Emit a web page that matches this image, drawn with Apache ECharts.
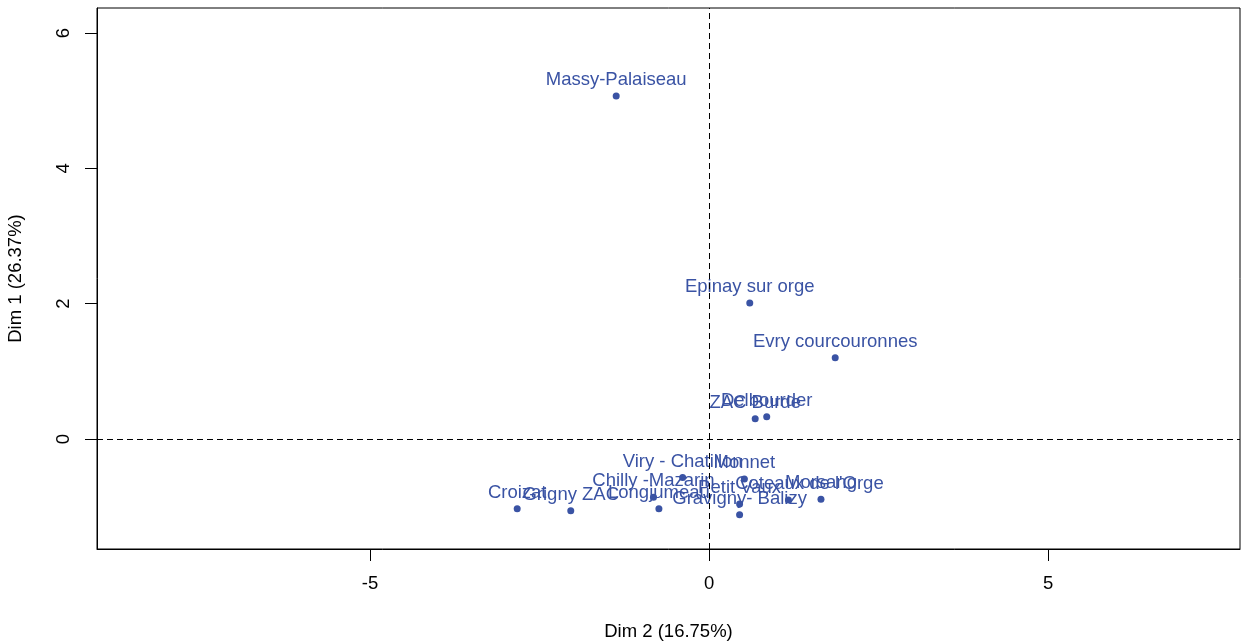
<!DOCTYPE html>
<html>
<head>
<meta charset="utf-8">
<script src="https://cdn.jsdelivr.net/npm/echarts@6/dist/echarts.min.js"></script>
<style>html,body{margin:0;padding:0;background:#fff}#c{width:1241px;height:643px}</style>
</head>
<body>
<div id="c"></div>
<script>
const names = ["Massy-Palaiseau","Epinay sur orge","Evry courcouronnes","ZAC Burde","Delbourder","Viry - Chatillon","Monnet","Chilly -Mazarin","Longjumeau","Croizat","Grigny ZAC","Petit Vaux","Gravigny- Balizy","Coteaux de l'Orge","Morsang"];
const dim2 = [-1.37, 0.60, 1.86, 0.68, 0.85, -0.39, 0.52, -0.82, -0.74, -2.83, -2.04, 0.45, 0.45, 1.17, 1.65];
const dim1 = [5.07, 2.01, 1.20, 0.30, 0.33, -0.57, -0.59, -0.86, -1.03, -1.03, -1.06, -0.96, -1.12, -0.90, -0.89];
const xTicks = [-5, 0, 5];
const yTicks = [0, 2, 4, 6];

const col = '#3a53a4';
const font = '"Liberation Sans", Arial, sans-serif';
// label nudges (styling only: the original's label placement shifted this label)
const labelNudgeX = {"Coteaux de l'Orge": 21};
const data = names.map((n, i) => ({name: n, value: [dim2[i], dim1[i]]}));

const chart = echarts.init(document.getElementById('c'));
chart.setOption({
  animation: false,
  grid: {left: 97, right: 1, top: 8, bottom: 94, show: true, borderColor: '#000', borderWidth: 1, outerBoundsMode: 'none', containLabel: false},
  xAxis: {
    type: 'value', min: -9.027, max: 7.83,
    name: 'Dim 2 (16.75%)', nameLocation: 'middle', nameGap: 73,
    nameTextStyle: {color: '#000', fontSize: 18.5, fontFamily: font},
    splitLine: {show: false},
    axisLine: {show: true, onZero: false, lineStyle: {color: '#000'}},
    axisTick: {show: true, length: 12, customValues: xTicks, lineStyle: {color: '#000'}},
    axisLabel: {customValues: xTicks, margin: 25, color: '#000', fontSize: 18.5, fontFamily: font}
  },
  yAxis: {
    type: 'value', min: -1.625, max: 6.37,
    name: 'Dim 1 (26.37%)', nameLocation: 'middle', nameGap: 72, nameRotate: 90,
    nameTextStyle: {color: '#000', fontSize: 18.5, fontFamily: font},
    splitLine: {show: false},
    axisLine: {show: true, onZero: false, lineStyle: {color: '#000'}},
    axisTick: {show: true, length: 12, customValues: yTicks, lineStyle: {color: '#000'}},
    axisLabel: {customValues: yTicks, rotate: 90, margin: 24, color: '#000', fontSize: 18.5, fontFamily: font}
  },
  series: [{
    type: 'scatter',
    data: data,
    symbol: 'circle', symbolSize: 7,
    itemStyle: {color: col, opacity: 1},
    label: {show: true, position: 'top', distance: 3, formatter: p => p.name, color: col, fontSize: 18.5, fontFamily: font},
    emphasis: {disabled: true},
    labelLayout: function (params) {
      const n = names[params.dataIndex];
      const dx = labelNudgeX[n] || 0;
      return {dx: dx, hideOverlap: false};
    },
    markLine: {
      silent: true, symbol: 'none', label: {show: false},
      lineStyle: {color: '#000', type: [6, 4], width: 1, opacity: 1},
      emphasis: {disabled: true},
      data: [{xAxis: 0}, {yAxis: 0}]
    }
  }]
});
</script>
</body>
</html>
